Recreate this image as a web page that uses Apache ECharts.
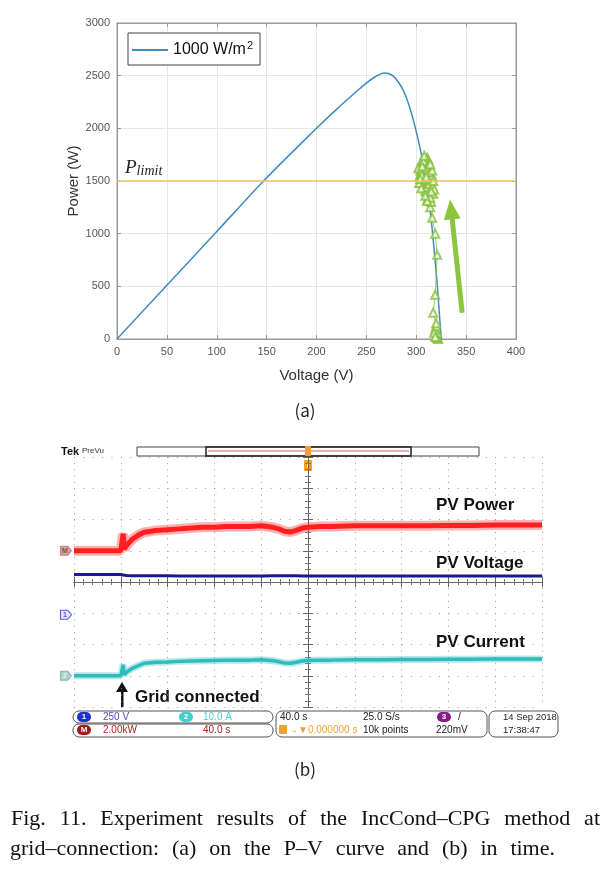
<!DOCTYPE html>
<html>
<head>
<meta charset="utf-8">
<script src="https://cdn.jsdelivr.net/npm/echarts@6/dist/echarts.min.js"></script>
<style>
  html, body { margin: 0; padding: 0; background: #fff; }
  #chart { width: 610px; height: 873px; }
</style>
</head>
<body>
<div id="chart"></div>
<script>
// (a) P-V curve at 1000 W/m2
const pvVoltage = [0, 50, 100, 150, 200, 220, 240, 250, 258, 264, 268, 272, 277, 282, 287, 292, 297, 302, 306, 310, 314, 317, 321, 325];
const pvPower = [0, 510, 1020, 1530, 2000, 2180, 2350, 2430, 2485, 2515, 2525, 2520, 2495, 2440, 2360, 2240, 2080, 1890, 1710, 1500, 1220, 940, 520, 0];
const pLimit = 1500;

// IncCond-CPG operating points (V, W)
const cpgVoltage = [322, 321, 320, 321, 319, 320, 318, 319, 320, 317, 319, 321, 319, 316, 314, 313, 311, 312, 310, 312,
  309, 311, 313, 310, 308, 312, 310, 309, 311, 313, 310, 308, 312, 309, 311, 314, 310, 307, 312, 310,
  309, 313, 311, 308, 310, 306, 309, 312, 315, 311, 307, 310, 313, 309, 306, 311, 314, 308, 310, 312,
  307, 309, 311, 305, 308, 312, 310, 307, 309, 313, 311, 306, 310, 304, 303, 305, 316, 317, 315, 304,
  302, 306, 316, 318, 314, 305, 303, 307, 315, 317, 313, 306, 304, 308, 316, 311, 305, 309, 314, 310];
const cpgPower = [0, 10, 30, 60, 90, 120, 60, 20, 150, 250, 420, 800, 1000, 1150, 1250, 1380, 1450, 1550, 1620, 1700,
  1520, 1480, 1600, 1680, 1550, 1420, 1500, 1640, 1720, 1560, 1400, 1600, 1650, 1460, 1540, 1480, 1580, 1500, 1380, 1700,
  1600, 1520, 1450, 1560, 1500, 1610, 1430, 1350, 1420, 1660, 1530, 1470, 1390, 1690, 1580, 1320, 1450, 1620, 1540, 1480,
  1650, 1410, 1560, 1590, 1700, 1500, 1440, 1620, 1530, 1470, 1610, 1560, 1520, 1600, 1540, 1660, 1450, 1380, 1300, 1480,
  1620, 1700, 1550, 1420, 1340, 1560, 1480, 1690, 1400, 1500, 1580, 1640, 1520, 1740, 1600, 1310, 1430, 1360, 1660, 1540];

// (b) oscilloscope record, time relative to trigger (s)
const scopeTime = [-200, -190, -180, -170, -160, -159, -158, -157, -155, -150, -145, -140, -130, -120, -110, -100, -90, -80, -70, -60,
  -50, -40, -30, -25, -20, -15, -10, -5, 0, 10, 20, 40, 60, 80, 100, 120, 140, 160, 180, 200];
const powerKW = [0, 0, 0, 0, 0, 0.05, 1.1, 0.1, 0.35, 0.75, 1.0, 1.18, 1.3, 1.35, 1.4, 1.45, 1.5, 1.5, 1.55, 1.55,
  1.55, 1.6, 1.5, 1.4, 1.25, 1.2, 1.3, 1.45, 1.5, 1.55, 1.55, 1.6, 1.6, 1.6, 1.6, 1.62, 1.62, 1.65, 1.65, 1.65];
const voltageV = [322, 322, 322, 322, 322, 322, 318, 316, 314, 313, 312, 312, 312, 312, 311, 311, 311, 311, 311, 311,
  311, 311, 312, 312, 313, 313, 312, 311, 311, 311, 311, 311, 311, 311, 311, 311, 311, 311, 311, 311];
const currentA = [0, 0, 0, 0, 0, 0.1, 3.5, 0.3, 1.2, 2.4, 3.2, 4.0, 4.3, 4.4, 4.6, 4.7, 4.8, 4.9, 5.0, 5.0,
  5.0, 5.1, 4.8, 4.5, 4.1, 4.0, 4.3, 4.7, 4.9, 5.0, 5.0, 5.1, 5.1, 5.2, 5.2, 5.3, 5.3, 5.4, 5.4, 5.4];

// channel settings: ground position (div) and scale per div
const powerPos = 1, powerPerDiv = 2;       // M: 2.00 kW/div
const voltPos = -1.05, voltPerDiv = 250;   // 1: 250 V/div
const currPos = -3, currPerDiv = 10;       // 2: 10.0 A/div

const toDiv = (vals, pos, perDiv) => scopeTime.map((t, i) => [t, pos + vals[i] / perDiv]);
const pvCurve = pvVoltage.map((v, i) => [v, pvPower[i]]);
const cpgTrack = cpgVoltage.map((v, i) => [v, cpgPower[i]]);

const sans = 'Liberation Sans';
const captionFont = '22px "Liberation Serif"';

const chart = echarts.init(document.getElementById('chart'));

const scopeTickAxis = {
  min: -200, max: 200, interval: 40,
  axisLine: { show: true, lineStyle: { color: '#666', width: 1 } },
  axisTick: { show: true, inside: true, length: 5, lineStyle: { color: '#666' } },
  minorTick: { show: true, splitNumber: 5, length: 3, lineStyle: { color: '#777' } },
  axisLabel: { show: false },
  splitLine: { show: false }
};
const scopeTickYAxis = Object.assign({}, scopeTickAxis, { min: -4, max: 4, interval: 1 });

// caption, set justified between the given edges
const captionLine1 = ['Fig.', '11.', 'Experiment', 'results', 'of', 'the', 'IncCond\u2013CPG', 'method', 'at'];
const captionLine2 = ['grid\u2013connection:', '(a)', 'on', 'the', 'P\u2013V', 'curve', 'and', '(b)', 'in', 'time.'];

const measure = document.createElement('canvas').getContext('2d');
measure.font = captionFont;
function justify(words, x0, x1, y) {
  const widths = words.map(w => measure.measureText(w).width);
  const gap = (x1 - x0 - widths.reduce((a, b) => a + b, 0)) / (words.length - 1);
  let x = x0;
  return words.map((w, i) => {
    const el = { type: 'text', x: x, y: y, style: { text: w, font: captionFont, fill: '#111', verticalAlign: 'middle' } };
    x += widths[i] + gap;
    return el;
  });
}

const graphics = [].concat(justify(captionLine1, 11, 600, 819), justify(captionLine2, 10, 555, 849));

function txt(x, y, text, size, color, extra) {
  return { type: 'text', x: x, y: y, style: Object.assign({ text: text, fontFamily: sans, fontSize: size, fill: color, verticalAlign: 'middle' }, extra || {}) };
}
function box(x, y, w, h, r) {
  return { type: 'rect', shape: { x: x, y: y, width: w, height: h, r: r }, style: { fill: 'none', stroke: '#555', lineWidth: 1 } };
}
function badge(cx, cy, rx, fill, label, color) {
  return { type: 'group', children: [
    { type: 'rect', shape: { x: cx - rx, y: cy - 5, width: rx * 2, height: 10, r: 5 }, style: { fill: fill } },
    { type: 'text', x: cx, y: cy, style: { text: label, fontFamily: sans, fontSize: 8, fontWeight: 'bold', fill: color, align: 'center', verticalAlign: 'middle' } }
  ] };
}

graphics.push(
  { type: 'text', x: 305, y: 411, style: { text: '(a)', fontFamily: 'Noto Sans CJK KR', fontSize: 17, fill: '#222', align: 'center', verticalAlign: 'middle' } },
  { type: 'text', x: 305, y: 770, style: { text: '(b)', fontFamily: 'Noto Sans CJK KR', fontSize: 17, fill: '#222', align: 'center', verticalAlign: 'middle' } },
  // scope header
  txt(61, 452, 'Tek', 11, '#111', { fontWeight: 'bold' }),
  txt(82, 451, 'PreVu', 8, '#333'),
  { type: 'rect', shape: { x: 137, y: 447, width: 342, height: 9 }, style: { fill: '#fff', stroke: '#444', lineWidth: 1 } },
  { type: 'rect', shape: { x: 206, y: 447, width: 205, height: 9 }, style: { fill: 'none', stroke: '#222', lineWidth: 1.5 } },
  { type: 'line', shape: { x1: 208, y1: 451, x2: 409, y2: 451 }, style: { stroke: '#e06060', lineWidth: 1 } },
  { type: 'rect', shape: { x: 305, y: 446, width: 6, height: 10, r: 1 }, style: { fill: '#f0a030' } },
  { type: 'rect', shape: { x: 304, y: 460, width: 8, height: 11, r: 1 }, style: { fill: '#f0a030' } },
  { type: 'text', x: 308, y: 466, style: { text: 'T', fontFamily: sans, fontSize: 8, fontWeight: 'bold', fill: '#fff', align: 'center', verticalAlign: 'middle' } },
  // trace labels
  txt(436, 505, 'PV Power', 17, '#111', { fontWeight: 'bold' }),
  txt(436, 563, 'PV Voltage', 17, '#111', { fontWeight: 'bold' }),
  txt(436, 642, 'PV Current', 17, '#111', { fontWeight: 'bold' }),
  txt(135, 697, 'Grid connected', 17, '#111', { fontWeight: 'bold' }),
  { type: 'polygon', shape: { points: [[122, 682], [116, 692], [128, 692]] }, style: { fill: '#111' } },
  { type: 'rect', shape: { x: 121, y: 690, width: 2.5, height: 17 }, style: { fill: '#111' } },
  // status bar
  box(73, 711, 200, 12, 6),
  box(73, 724, 200, 13, 6),
  box(276, 711, 211, 26, 6),
  box(489, 711, 69, 26, 6),
  badge(84, 717, 7, '#1f2fd0', '1', '#fff'),
  txt(103, 717, '250 V', 10, '#5050c8'),
  badge(186, 717, 7, '#40d0d0', '2', '#fff'),
  txt(203, 717, '10.0 A', 10, '#50d0d0'),
  badge(84, 730, 7, '#a01818', 'M', '#fff'),
  txt(103, 730, '2.00kW', 10, '#b02020'),
  txt(203, 730, '40.0 s', 10, '#b02020'),
  txt(280, 717, '40.0 s', 10, '#222'),
  { type: 'rect', shape: { x: 279, y: 725, width: 8, height: 9, r: 1 }, style: { fill: '#f0a030' } },
  txt(288, 730, '\u2192\u25BC0.000000 s', 10, '#f0a030'),
  txt(363, 717, '25.0 S/s', 10, '#222'),
  txt(363, 730, '10k points', 10, '#222'),
  badge(444, 717, 7, '#8a1a8a', '3', '#fff'),
  txt(458, 717, '/', 10, '#222'),
  txt(436, 730, '220mV', 10, '#222'),
  txt(503, 717, '14 Sep 2018', 9.5, '#222'),
  txt(503, 730, '17:38:47', 9.5, '#222')
);

function groundTag(level, label, fill, stroke, color) {
  return {
    type: 'scatter', xAxisIndex: 2, yAxisIndex: 2, clip: false, silent: true, z: 10,
    data: [[-200, level]],
    symbol: 'path://M0,0 L8,0 L12,5 L8,10 L0,10 Z', symbolSize: [11, 9], symbolOffset: [-8, 0],
    itemStyle: { color: fill, borderColor: stroke, borderWidth: 1 },
    label: { show: true, position: 'inside', offset: [-1, 0], formatter: label, fontFamily: sans, fontSize: 7, fontWeight: 'bold', color: color }
  };
}

function scopeTrace(name, vals, pos, perDiv, color, width, haloWidth) {
  const data = toDiv(vals, pos, perDiv);
  const list = [{
    name: name, type: 'line', xAxisIndex: 2, yAxisIndex: 2, data: data, symbol: 'none', silent: true,
    lineStyle: { color: color, width: width }, z: 6
  }];
  if (haloWidth) {
    list.push({
      name: name + ' band', type: 'line', xAxisIndex: 2, yAxisIndex: 2, data: data, symbol: 'none', silent: true,
      lineStyle: { color: color, width: haloWidth, opacity: 0.35 }, z: 5
    });
  }
  return list;
}

const plainNum = (v) => String(v);

const option = {
  animation: false,
  backgroundColor: '#fff',
  grid: [
    { left: 117, top: 23, width: 399, height: 316, show: true, borderColor: '#999', borderWidth: 1 },
    { left: 74, top: 457, width: 468, height: 250 },
    { left: 74, top: 457, width: 468, height: 250 }
  ],
  legend: {
    data: ['1000 W/m2'],
    left: 128, top: 33,
    padding: [7, 7, 7, 4],
    borderColor: '#444', borderWidth: 1,
    backgroundColor: '#fff',
    itemWidth: 36, itemHeight: 2, icon: 'rect',
    formatter: () => '1000 W/m{sup|2}',
    textStyle: { fontFamily: sans, fontSize: 16, color: '#111', rich: { sup: { fontSize: 11, padding: [0, 0, 9, 1], fontFamily: sans, color: '#111' } } }
  },
  xAxis: [
    {
      gridIndex: 0, type: 'value', min: 0, max: 400, interval: 50,
      name: 'Voltage (V)', nameLocation: 'middle', nameGap: 29,
      nameTextStyle: { fontFamily: sans, fontSize: 15, color: '#333' },
      axisLine: { onZero: false, lineStyle: { color: '#999' } },
      axisTick: { inside: true, length: 4, lineStyle: { color: '#999' } },
      axisLabel: { fontFamily: sans, fontSize: 11, color: '#555', margin: 7, formatter: plainNum },
      splitLine: { lineStyle: { color: '#e6e6e6' } }
    },
    {
      gridIndex: 0, type: 'value', min: 0, max: 400, interval: 50, position: 'top',
      axisLine: { onZero: false, lineStyle: { color: '#999' } },
      axisTick: { inside: true, length: 4, lineStyle: { color: '#999' } },
      axisLabel: { show: false }, splitLine: { show: false }
    },
    {
      gridIndex: 1, type: 'value', min: -200, max: 200, interval: 40,
      axisLine: { onZero: true, lineStyle: { color: '#555' } },
      axisTick: { show: true, inside: true, length: 4, lineStyle: { color: '#555' } },
      minorTick: { show: true, splitNumber: 5, length: 3, lineStyle: { color: '#666' } },
      axisLabel: { show: false },
      splitLine: { lineStyle: { color: '#999', type: [1, 5.25] } }
    },
    Object.assign({ gridIndex: 2, type: 'value', position: 'bottom' }, scopeTickAxis),
    Object.assign({ gridIndex: 2, type: 'value', position: 'top' }, scopeTickAxis)
  ],
  yAxis: [
    {
      gridIndex: 0, type: 'value', min: 0, max: 3000, interval: 500,
      name: 'Power (W)', nameLocation: 'middle', nameGap: 36, nameRotate: 90, nameMoveOverlap: false,
      nameTextStyle: { fontFamily: sans, fontSize: 15, color: '#333' },
      axisLine: { onZero: false, lineStyle: { color: '#999' } },
      axisTick: { inside: true, length: 4, lineStyle: { color: '#999' } },
      axisLabel: { fontFamily: sans, fontSize: 11, color: '#555', margin: 7, formatter: plainNum },
      splitLine: { lineStyle: { color: '#e6e6e6' } }
    },
    {
      gridIndex: 0, type: 'value', min: 0, max: 3000, interval: 500, position: 'right',
      axisLine: { onZero: false, lineStyle: { color: '#999' } },
      axisTick: { inside: true, length: 4, lineStyle: { color: '#999' } },
      axisLabel: { show: false }, splitLine: { show: false }
    },
    {
      gridIndex: 1, type: 'value', min: -4, max: 4, interval: 1,
      axisLine: { onZero: true, lineStyle: { color: '#555' } },
      axisTick: { show: true, inside: true, length: 4, lineStyle: { color: '#555' } },
      minorTick: { show: true, splitNumber: 5, length: 3, lineStyle: { color: '#666' } },
      axisLabel: { show: false },
      splitLine: { lineStyle: { color: '#999', type: [1, 8.36] } }
    },
    Object.assign({ gridIndex: 2, type: 'value', position: 'left' }, scopeTickYAxis),
    Object.assign({ gridIndex: 2, type: 'value', position: 'right' }, scopeTickYAxis)
  ],
  series: [
    {
      name: '1000 W/m2', type: 'line', xAxisIndex: 0, yAxisIndex: 0,
      data: pvCurve, smooth: 0.3, showSymbol: false, symbol: 'none',
      itemStyle: { color: '#3d8cc0' },
      lineStyle: { color: '#3d8cc0', width: 1.5 },
      markLine: {
        silent: true, symbol: 'none',
        lineStyle: { color: '#f2c360', width: 1.5, type: 'solid' },
        label: {
          position: 'insideStartTop', distance: [8, 3],
          formatter: '{p|P}{s|limit}',
          rich: {
            p: { fontFamily: 'Liberation Serif', fontStyle: 'italic', fontSize: 19, color: '#222' },
            s: { fontFamily: 'Liberation Serif', fontStyle: 'italic', fontSize: 14, color: '#222', padding: [6, 0, 0, 0] }
          }
        },
        data: [{ yAxis: pLimit }]
      },
      z: 3
    },
    {
      name: 'IncCond-CPG', type: 'line', xAxisIndex: 0, yAxisIndex: 0,
      data: cpgTrack, symbol: 'emptyTriangle', symbolSize: 8,
      itemStyle: { color: '#86bf3c', opacity: 0.8 },
      lineStyle: { color: '#86bf3c', width: 1, opacity: 0.8 },
      markLine: {
        silent: true, symbol: ['none', 'triangle'], symbolSize: [17, 20],
        lineStyle: { color: '#8cc63f', width: 5, type: 'solid', opacity: 1 },
        itemStyle: { color: '#8cc63f' },
        label: { show: false },
        data: [[{ coord: [346, 250] }, { coord: [335, 1230] }]]
      },
      z: 4
    }
  ].concat(
    scopeTrace('PV Power', powerKW, powerPos, powerPerDiv, '#ff1f1f', 5, 10),
    scopeTrace('PV Voltage', voltageV, voltPos, voltPerDiv, '#1a1a90', 3, 0),
    scopeTrace('PV Current', currentA, currPos, currPerDiv, '#2fbcbc', 3.5, 7),
    [
      groundTag(powerPos, 'M', '#c98a84', '#b07070', '#7a3030'),
      groundTag(voltPos, '1', '#dfe0ff', '#3535d0', '#3535d0'),
      groundTag(currPos, '2', '#9cc4c0', '#7aa8a4', '#fff')
    ]
  ),
  graphic: { elements: graphics }
};

chart.setOption(option);
</script>
</body>
</html>
